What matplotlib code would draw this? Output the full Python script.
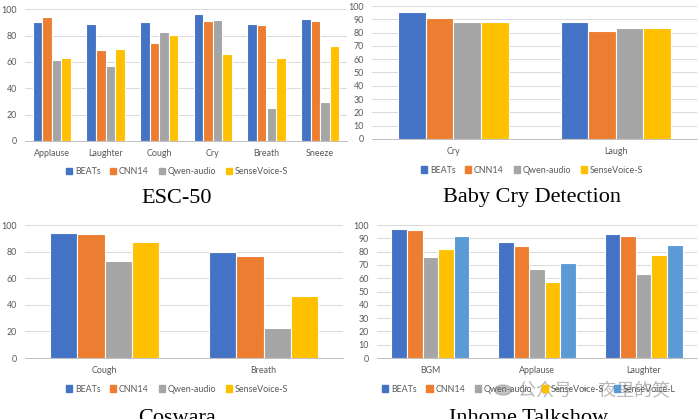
import matplotlib.pyplot as plt
import matplotlib.patches as patches

W, H = 698, 419

colors = ['#4472C4', '#ED7D31', '#A5A5A5', '#FFC000', '#5B9BD5']
models = ['BEATs', 'CNN14', 'Qwen-audio', 'SenseVoice-S']
models5 = ['BEATs', 'CNN14', 'Qwen-audio', 'SenseVoice-S', 'SenseVoice-L']

# ESC-50
esc_cats = ['Applause', 'Laughter', 'Cough', 'Cry', 'Breath', 'Sneeze']
esc_beats = [90.6, 88.9, 90.6, 96.5, 88.6, 92.4]
esc_cnn14 = [94.0, 69.1, 74.2, 90.9, 88.4, 90.9]
esc_qwen = [61.5, 57.2, 82.5, 91.6, 25.3, 29.6]
esc_svs = [62.8, 69.6, 80.5, 65.8, 62.8, 71.9]

# Baby Cry Detection
baby_cats = ['Cry', 'Laugh']
baby_beats = [95.5, 87.7]
baby_cnn14 = [90.7, 81.0]
baby_qwen = [87.7, 83.7]
baby_svs = [87.7, 83.2]

# Coswara
cos_cats = ['Cough', 'Breath']
cos_beats = [94.2, 79.4]
cos_cnn14 = [93.2, 76.9]
cos_qwen = [73.1, 22.4]
cos_svs = [86.9, 46.7]

# Inhome Talkshow
inh_cats = ['BGM', 'Applause', 'Laughter']
inh_beats = [97.2, 87.2, 93.5]
inh_cnn14 = [96.2, 84.5, 91.5]
inh_qwen = [75.7, 66.9, 63.4]
inh_svs = [81.7, 56.9, 77.7]
inh_svl = [92.0, 71.7, 85.2]

plt.rcParams['font.family'] = ['Lato', 'DejaVu Sans']

fig = plt.figure(figsize=(W / 100, H / 100), dpi=100)


def fx(px):
    return px / W


def fy(py):
    return 1 - py / H


def panel(x0, x1, ytop, ybot, cats, series, labels, step, frac, title,
          title_base, legend_y, legend_cx):
    ax = fig.add_axes([fx(x0), fy(ybot), fx(x1 - x0), (ybot - ytop) / H])
    n = len(series)
    bw = frac / n
    for j, vals in enumerate(series):
        xs = [i + (j - (n - 1) / 2) * bw for i in range(len(cats))]
        ax.bar(xs, vals, width=bw, color=colors[j], edgecolor='white',
               linewidth=0.8, zorder=3)
    ax.set_xlim(-0.5, len(cats) - 0.5)
    ax.set_ylim(0, 100)
    ax.set_yticks(range(0, 101, step))
    ax.set_xticks(range(len(cats)))
    ax.set_xticklabels(cats)
    ax.tick_params(axis='both', length=0, labelsize=6.4, labelcolor='#595959')
    ax.tick_params(axis='x', pad=6)
    ax.tick_params(axis='y', pad=6)
    ax.yaxis.grid(True, color='#D9D9D9', linewidth=0.7, zorder=0)
    for s in ['top', 'right', 'left']:
        ax.spines[s].set_visible(False)
    ax.spines['bottom'].set_color('#BFBFBF')
    ax.spines['bottom'].set_linewidth(0.7)
    handles = [patches.Patch(color=colors[j], label=labels[j]) for j in range(n)]
    fig.legend(handles=handles, loc='center', ncol=n, frameon=False,
               bbox_to_anchor=(fx(legend_cx), fy(legend_y)), fontsize=6.4,
               handlelength=0.7, handleheight=0.7, handletextpad=0.3,
               columnspacing=1.1, labelcolor='#595959')
    fig.text(fx(legend_cx), fy(title_base), title, ha='center', va='baseline',
             fontsize=16, family='Liberation Serif', color='black')
    return ax


panel(25, 347, 9.3, 141, esc_cats,
      [esc_beats, esc_cnn14, esc_qwen, esc_svs], models, 20, 0.72,
      'ESC-50', 203, 172, 177)
panel(372, 697, 6, 139, baby_cats,
      [baby_beats, baby_cnn14, baby_qwen, baby_svs], models, 10, 0.68,
      'Baby Cry Detection', 202, 170, 532)
panel(25, 343, 225, 358, cos_cats,
      [cos_beats, cos_cnn14, cos_qwen, cos_svs], models, 20, 0.69,
      'Coswara', 423, 389, 177)
panel(377, 697, 225, 358, inh_cats,
      [inh_beats, inh_cnn14, inh_qwen, inh_svs, inh_svl], models5, 10, 0.73,
      'Inhome Talkshow', 423, 389, 529)

# watermark
fig.text(fx(518), fy(390), '公众号 · 夜里的笑', ha='left', va='center',
         fontsize=13, family=['Noto Sans CJK SC', 'DejaVu Sans'],
         color='#808080', alpha=0.55)
fig.patches.append(patches.Circle((fx(503), fy(390)), 0.012,
                                  transform=fig.transFigure,
                                  color='#808080', alpha=0.45))

fig.savefig('out.png', dpi=100)
